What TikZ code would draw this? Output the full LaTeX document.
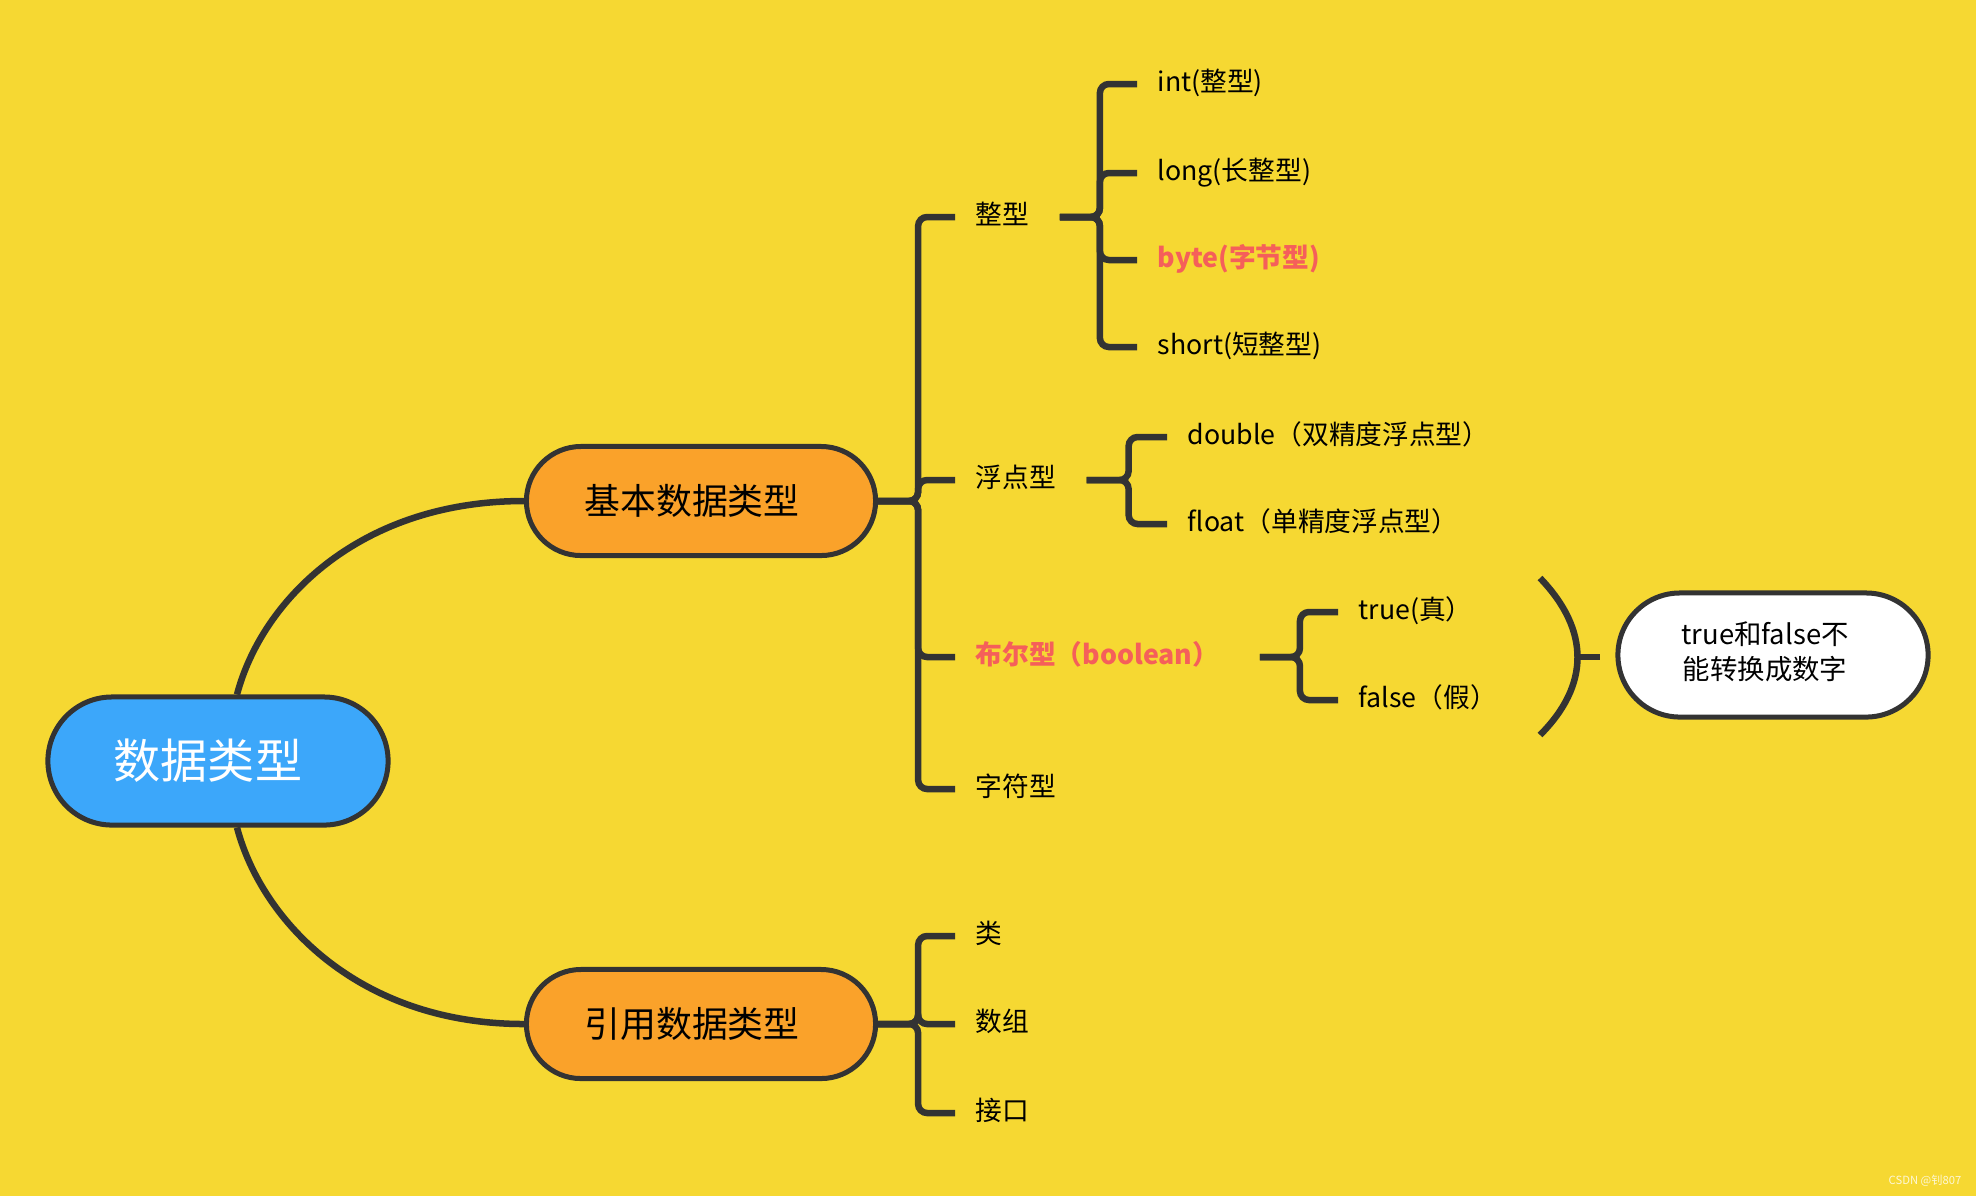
\documentclass[tikz,border=0pt]{standalone}
\usepackage{fontspec}
\setmainfont{Noto Sans CJK SC}
\usepackage{tikz}

\definecolor{bgyellow}{RGB}{246,216,50}
\definecolor{linegray}{RGB}{51,51,51}
\definecolor{rootblue}{RGB}{60,167,250}
\definecolor{topicorange}{RGB}{250,162,42}
\definecolor{hotred}{RGB}{245,95,90}

\begin{document}
\begin{tikzpicture}[x=0.01cm, y=-0.01cm,
    link/.style={draw=linegray, line width=0.065cm, rounded corners=0.09cm},
    pill/.style={draw=linegray, line width=0.05cm},
    item/.style={anchor=west, inner xsep=0.2cm, inner ysep=0pt,
      text height=0.8em, text depth=0.35em,
      font=\fontsize{7.6}{9}\selectfont}]

    % background
    \fill [bgyellow] (0, 0) rectangle (1976, 1196);
    \useasboundingbox (0, 0) rectangle (1976, 1196);

    % root and the two topics
    \node [pill, fill=rootblue, text=white, minimum width=3.4cm, minimum height=1.28cm,
      rounded corners=0.64cm, font=\fontsize{13.4}{16}\selectfont] (root) at (218, 761) {数据类型\hspace*{0.2cm}};
    \node [pill, fill=topicorange, minimum width=3.49cm, minimum height=1.09cm,
      rounded corners=0.545cm, font=\fontsize{10.2}{12}\selectfont] (basic) at (701, 501) {基本数据类型\hspace*{0.18cm}};
    \node [pill, fill=topicorange, minimum width=3.49cm, minimum height=1.09cm,
      rounded corners=0.545cm, font=\fontsize{10.2}{12}\selectfont] (ref) at (701, 1024) {引用数据类型\hspace*{0.18cm}};

    \draw [link] ([xshift=0.19cm]root.north) .. controls (262, 600) and (360, 501) .. (basic.west);
    \draw [link] ([xshift=0.19cm]root.south) .. controls (262, 922) and (360, 1024) .. (ref.west);

    % basic types
    \node [item] (whole) at (955, 217) {整型};
    \node [item] (floating) at (955, 480) {浮点型};
    \node [item, text=hotred, font=\fontsize{7.6}{9}\selectfont\bfseries] (bool) at (955, 657) {布尔型（boolean）};
    \node [item] (chars) at (955, 789) {字符型};

    \foreach \kid in {whole, floating, bool, chars}
      \draw [link] (basic.east) -- ++(40, 0) |- (\kid.west);

    % integer types
    \node [item] (int) at (1137, 84) {int(整型)};
    \node [item] (long) at (1137, 173) {long(长整型)};
    \node [item, text=hotred, font=\fontsize{7.6}{9}\selectfont\bfseries] (byte) at (1137, 260) {byte(字节型)};
    \node [item] (short) at (1137, 347) {short(短整型)};

    \foreach \kid in {int, long, byte, short}
      \draw [link] ([xshift=0.1cm]whole.east) -- ++(40, 0) |- (\kid.west);

    % float types
    \node [item] (double) at (1167, 437) {double（双精度浮点型）};
    \node [item] (float) at (1167, 524) {float（单精度浮点型）};

    \foreach \kid in {double, float}
      \draw [link] ([xshift=0.1cm]floating.east) -- ++(42, 0) |- (\kid.west);

    % boolean values
    \node [item] (true) at (1338, 612) {true(真）};
    \node [item] (false) at (1338, 700) {false（假）};

    \foreach \kid in {true, false}
      \draw [link] ([xshift=0.2cm]bool.east) -- ++(40, 0) |- (\kid.west);

    % the bracket and the note
    \coordinate (ptop) at (1540, 578);
    \coordinate (pbot) at (1540, 735);
    \coordinate (papex) at (1577, 657);
    \coordinate (pstub) at (1600, 657);
    \draw [link] (ptop) .. controls (1590, 630) and (1590, 685) .. (pbot);
    \draw [link] (papex) -- (pstub);

    \node [pill, fill=white, minimum width=3.1cm, minimum height=1.24cm, rounded corners=0.62cm,
      font=\fontsize{7.8}{9.9}\selectfont] (note) at (1773, 655)
      {\raisebox{0.05cm}{\begin{tabular}{@{}c@{}}true和false不\\能转换成数字\end{tabular}}\hspace*{0.16cm}};

    % reference types
    \node [item] (class) at (955, 936) {类};
    \node [item] (array) at (955, 1024) {数组};
    \node [item] (iface) at (955, 1113) {接口};

    \foreach \kid in {class, array, iface}
      \draw [link] (ref.east) -- ++(40, 0) |- (\kid.west);

    % watermark
    \node [anchor=east, inner sep=0pt, text=white!80!bgyellow,
      font=\fontsize{3.2}{4}\selectfont] (mark) at (1962, 1181) {CSDN @钊807};

\end{tikzpicture}
\end{document}
